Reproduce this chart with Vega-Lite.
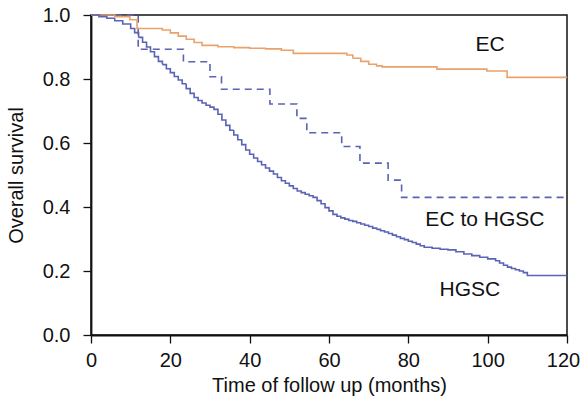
{
  "$schema": "https://vega.github.io/schema/vega-lite/v6.json",
  "autosize": "none",
  "width": 476,
  "height": 320,
  "padding": {"left": 91, "top": 15, "right": 13, "bottom": 70},
  "background": "white",
  "config": {
    "view": {"stroke": "#111", "strokeWidth": 1.5},
    "font": "Liberation Sans",
    "axis": {
      "grid": false,
      "domainColor": "#111",
      "domainWidth": 1.8,
      "tickColor": "#111",
      "tickWidth": 1.3,
      "labelFont": "Liberation Sans",
      "titleFont": "Liberation Sans",
      "labelFontSize": 20,
      "titleFontSize": 20,
      "titleFontWeight": "normal",
      "labelColor": "#111",
      "titleColor": "#111"
    }
  },
  "datasets": {
    "curves": [
      {"series": "EC to HGSC", "t": 0, "s": 1.0},
      {"series": "EC to HGSC", "t": 11.9, "s": 0.893},
      {"series": "EC to HGSC", "t": 23.3, "s": 0.854},
      {"series": "EC to HGSC", "t": 30.0, "s": 0.807},
      {"series": "EC to HGSC", "t": 32.9, "s": 0.768},
      {"series": "EC to HGSC", "t": 45.1, "s": 0.722},
      {"series": "EC to HGSC", "t": 51.9, "s": 0.677},
      {"series": "EC to HGSC", "t": 54.4, "s": 0.632},
      {"series": "EC to HGSC", "t": 63.2, "s": 0.589},
      {"series": "EC to HGSC", "t": 67.8, "s": 0.537},
      {"series": "EC to HGSC", "t": 74.9, "s": 0.484},
      {"series": "EC to HGSC", "t": 78.3, "s": 0.430},
      {"series": "EC to HGSC", "t": 120, "s": 0.430},

      {"series": "EC", "t": 0, "s": 1.0},
      {"series": "EC", "t": 6, "s": 0.995},
      {"series": "EC", "t": 9.8, "s": 0.985},
      {"series": "EC", "t": 11.6, "s": 0.958},
      {"series": "EC", "t": 18, "s": 0.953},
      {"series": "EC", "t": 20, "s": 0.944},
      {"series": "EC", "t": 22, "s": 0.934},
      {"series": "EC", "t": 24, "s": 0.924},
      {"series": "EC", "t": 26, "s": 0.914},
      {"series": "EC", "t": 28, "s": 0.905},
      {"series": "EC", "t": 32, "s": 0.901},
      {"series": "EC", "t": 36, "s": 0.898},
      {"series": "EC", "t": 40, "s": 0.896},
      {"series": "EC", "t": 44, "s": 0.894},
      {"series": "EC", "t": 48, "s": 0.89},
      {"series": "EC", "t": 51, "s": 0.88},
      {"series": "EC", "t": 64.5, "s": 0.875},
      {"series": "EC", "t": 66, "s": 0.865},
      {"series": "EC", "t": 68, "s": 0.855},
      {"series": "EC", "t": 70, "s": 0.846},
      {"series": "EC", "t": 72, "s": 0.841},
      {"series": "EC", "t": 73.4, "s": 0.838},
      {"series": "EC", "t": 87.2, "s": 0.831},
      {"series": "EC", "t": 99.8, "s": 0.825},
      {"series": "EC", "t": 104.9, "s": 0.805},
      {"series": "EC", "t": 120, "s": 0.805},

      {"series": "HGSC", "t": 0, "s": 1.0},
      {"series": "HGSC", "t": 2, "s": 0.995},
      {"series": "HGSC", "t": 4, "s": 0.99},
      {"series": "HGSC", "t": 6, "s": 0.982},
      {"series": "HGSC", "t": 8, "s": 0.972},
      {"series": "HGSC", "t": 10, "s": 0.958},
      {"series": "HGSC", "t": 11, "s": 0.945},
      {"series": "HGSC", "t": 12, "s": 0.93},
      {"series": "HGSC", "t": 13, "s": 0.915},
      {"series": "HGSC", "t": 14, "s": 0.9},
      {"series": "HGSC", "t": 15, "s": 0.885},
      {"series": "HGSC", "t": 16, "s": 0.87},
      {"series": "HGSC", "t": 17, "s": 0.855},
      {"series": "HGSC", "t": 18, "s": 0.845},
      {"series": "HGSC", "t": 19, "s": 0.832},
      {"series": "HGSC", "t": 20, "s": 0.82},
      {"series": "HGSC", "t": 21, "s": 0.808},
      {"series": "HGSC", "t": 22, "s": 0.797},
      {"series": "HGSC", "t": 23, "s": 0.785},
      {"series": "HGSC", "t": 24, "s": 0.77},
      {"series": "HGSC", "t": 25, "s": 0.755},
      {"series": "HGSC", "t": 26, "s": 0.742},
      {"series": "HGSC", "t": 27, "s": 0.733},
      {"series": "HGSC", "t": 28, "s": 0.725},
      {"series": "HGSC", "t": 29, "s": 0.718},
      {"series": "HGSC", "t": 30, "s": 0.712},
      {"series": "HGSC", "t": 31, "s": 0.705},
      {"series": "HGSC", "t": 32, "s": 0.69},
      {"series": "HGSC", "t": 33, "s": 0.672},
      {"series": "HGSC", "t": 34, "s": 0.655},
      {"series": "HGSC", "t": 35, "s": 0.64},
      {"series": "HGSC", "t": 36, "s": 0.625},
      {"series": "HGSC", "t": 37, "s": 0.61},
      {"series": "HGSC", "t": 38, "s": 0.595},
      {"series": "HGSC", "t": 39, "s": 0.578},
      {"series": "HGSC", "t": 40, "s": 0.565},
      {"series": "HGSC", "t": 41, "s": 0.553},
      {"series": "HGSC", "t": 42, "s": 0.542},
      {"series": "HGSC", "t": 43, "s": 0.532},
      {"series": "HGSC", "t": 44, "s": 0.522},
      {"series": "HGSC", "t": 45, "s": 0.512},
      {"series": "HGSC", "t": 46, "s": 0.503},
      {"series": "HGSC", "t": 47, "s": 0.492},
      {"series": "HGSC", "t": 48, "s": 0.482},
      {"series": "HGSC", "t": 49, "s": 0.474},
      {"series": "HGSC", "t": 50, "s": 0.466},
      {"series": "HGSC", "t": 51, "s": 0.458},
      {"series": "HGSC", "t": 52, "s": 0.45},
      {"series": "HGSC", "t": 53, "s": 0.445},
      {"series": "HGSC", "t": 54, "s": 0.44},
      {"series": "HGSC", "t": 55, "s": 0.435},
      {"series": "HGSC", "t": 56, "s": 0.43},
      {"series": "HGSC", "t": 57, "s": 0.42},
      {"series": "HGSC", "t": 58, "s": 0.41},
      {"series": "HGSC", "t": 59, "s": 0.398},
      {"series": "HGSC", "t": 60, "s": 0.388},
      {"series": "HGSC", "t": 61, "s": 0.377},
      {"series": "HGSC", "t": 62, "s": 0.371},
      {"series": "HGSC", "t": 63, "s": 0.366},
      {"series": "HGSC", "t": 64, "s": 0.362},
      {"series": "HGSC", "t": 65, "s": 0.358},
      {"series": "HGSC", "t": 66, "s": 0.355},
      {"series": "HGSC", "t": 67, "s": 0.351},
      {"series": "HGSC", "t": 68, "s": 0.347},
      {"series": "HGSC", "t": 69, "s": 0.343},
      {"series": "HGSC", "t": 70, "s": 0.339},
      {"series": "HGSC", "t": 71, "s": 0.334},
      {"series": "HGSC", "t": 72, "s": 0.33},
      {"series": "HGSC", "t": 73, "s": 0.326},
      {"series": "HGSC", "t": 74, "s": 0.322},
      {"series": "HGSC", "t": 75, "s": 0.317},
      {"series": "HGSC", "t": 76, "s": 0.312},
      {"series": "HGSC", "t": 77, "s": 0.307},
      {"series": "HGSC", "t": 78, "s": 0.302},
      {"series": "HGSC", "t": 79, "s": 0.298},
      {"series": "HGSC", "t": 80, "s": 0.293},
      {"series": "HGSC", "t": 81, "s": 0.289},
      {"series": "HGSC", "t": 82, "s": 0.284},
      {"series": "HGSC", "t": 83, "s": 0.279},
      {"series": "HGSC", "t": 84, "s": 0.274},
      {"series": "HGSC", "t": 86, "s": 0.271},
      {"series": "HGSC", "t": 88, "s": 0.268},
      {"series": "HGSC", "t": 90, "s": 0.266},
      {"series": "HGSC", "t": 92, "s": 0.26},
      {"series": "HGSC", "t": 94, "s": 0.253},
      {"series": "HGSC", "t": 96, "s": 0.248},
      {"series": "HGSC", "t": 98, "s": 0.243},
      {"series": "HGSC", "t": 100, "s": 0.238},
      {"series": "HGSC", "t": 102, "s": 0.232},
      {"series": "HGSC", "t": 103, "s": 0.225},
      {"series": "HGSC", "t": 104, "s": 0.218},
      {"series": "HGSC", "t": 105, "s": 0.212},
      {"series": "HGSC", "t": 106, "s": 0.208},
      {"series": "HGSC", "t": 107, "s": 0.204},
      {"series": "HGSC", "t": 108, "s": 0.2},
      {"series": "HGSC", "t": 109, "s": 0.195},
      {"series": "HGSC", "t": 110, "s": 0.186},
      {"series": "HGSC", "t": 120, "s": 0.186}
    ],
    "labels": [
      {"label": "EC", "t": 100.6, "s": 0.906},
      {"label": "EC to HGSC", "t": 99.3, "s": 0.36},
      {"label": "HGSC", "t": 95.5, "s": 0.14}
    ]
  },
  "layer": [
    {
      "data": {"name": "curves"},
      "mark": {"type": "line", "interpolate": "step-after", "strokeWidth": 1.6, "clip": false},
      "encoding": {
        "x": {
          "field": "t", "type": "quantitative",
          "scale": {"domain": [0, 120], "nice": false, "zero": false},
          "axis": {
            "title": "Time of follow up (months)",
            "values": [0, 10, 20, 30, 40, 50, 60, 70, 80, 90, 100, 110, 120],
            "labelExpr": "datum.value % 20 === 0 ? datum.label : ''",
            "tickSize": {"condition": {"test": "datum.value % 20 === 0", "value": 8}, "value": 5},
            "labelOffset": {"condition": {"test": "datum.value === 120", "value": -4}, "value": 0},
            "labelPadding": 7,
            "titlePadding": 5,
            "labelFlush": false
          }
        },
        "y": {
          "field": "s", "type": "quantitative",
          "scale": {"domain": [0, 1], "nice": false},
          "axis": {
            "title": "Overall survival",
            "values": [0, 0.1, 0.2, 0.3, 0.4, 0.5, 0.6, 0.7, 0.8, 0.9, 1.0],
            "format": ".1f",
            "labelExpr": "round(datum.value * 10) % 2 === 0 ? datum.label : ''",
            "tickSize": {"condition": {"test": "round(datum.value * 10) % 2 === 0", "value": 8}, "value": 5},
            "labelPadding": 13,
            "titlePadding": 16,
            "labelFlush": false
          }
        },
        "color": {
          "field": "series", "type": "nominal", "legend": null,
          "scale": {"domain": ["EC", "HGSC", "EC to HGSC"], "range": ["#E9A26C", "#5A63B4", "#5A63B4"]}
        },
        "strokeDash": {
          "field": "series", "type": "nominal", "legend": null,
          "scale": {"domain": ["EC", "HGSC", "EC to HGSC"], "range": [[1, 0], [1, 0], [7, 5]]}
        }
      }
    },
    {
      "data": {"name": "labels"},
      "mark": {"type": "text", "fontSize": 21, "font": "Liberation Sans", "color": "#111", "align": "center", "baseline": "middle"},
      "encoding": {
        "x": {"field": "t", "type": "quantitative"},
        "y": {"field": "s", "type": "quantitative"},
        "text": {"field": "label"}
      }
    }
  ]
}
